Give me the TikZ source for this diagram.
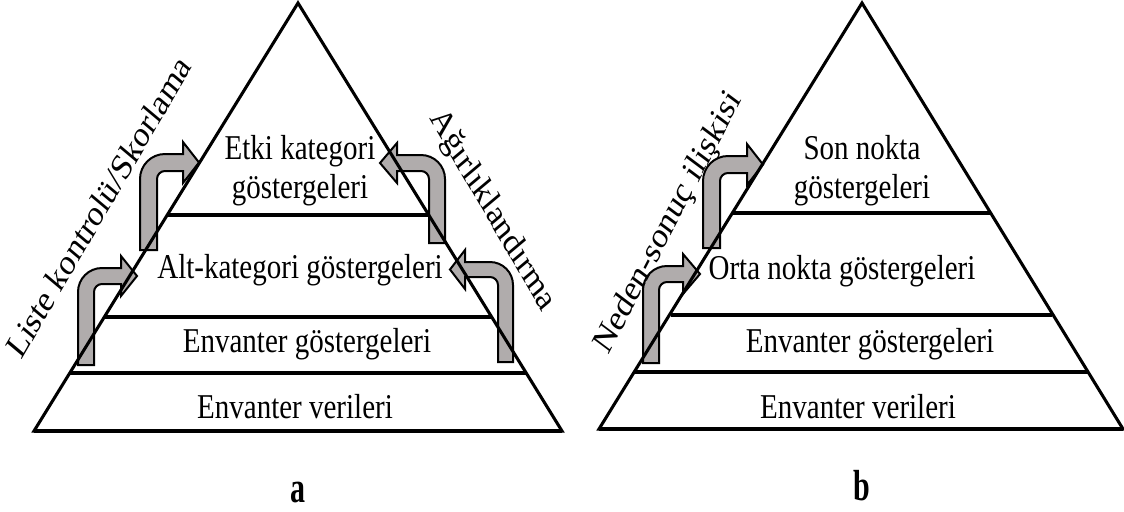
\documentclass[tikz,border=0pt]{standalone}
\usepackage{fontspec}
\setmainfont{Liberation Serif}
\definecolor{arrowgray}{RGB}{176,172,172}
\newcommand\bentarrow[7]{%
\begin{scope}[shift={(#1,#2)},xscale=#3]
\draw[arrowshape] (0,0) -- (0,{-#4+#5+8}) arc[start angle=180,end angle=270,radius={#5+8}]
  -- (#6,-#4) -- (#6,{-#4-12}) -- (#7,{-#4+#5/2}) -- (#6,{-#4+#5+12}) -- (#6,{-#4+#5})
  -- ({#5+8},{-#4+#5}) arc[start angle=270,end angle=180,radius=8] -- (#5,0) -- cycle;
\end{scope}}
\begin{document}
\begin{tikzpicture}[x=0.75pt,y=0.75pt,yscale=-1,
  arrowshape/.style={draw=black,fill=arrowgray,line width=1.5pt,line join=miter},
  tri/.style={draw=black,line width=2.3pt,line join=miter},
  layer/.style={draw=black,line width=3pt},
  lbl/.style={inner sep=0pt,yscale=1.2,anchor=base,font=\fontsize{21.75pt}{24.4pt}\selectfont,align=center},
  lbltwo/.style={inner sep=0pt,yscale=1.2,anchor=center,font=\fontsize{21.75pt}{24.4pt}\selectfont,align=center},
  side/.style={inner sep=0pt,anchor=base,yscale=1.2,font=\fontsize{23pt}{27pt}\selectfont},
  captext/.style={inner sep=0pt,anchor=base,yscale=1.45,font=\fontsize{22.5pt}{26pt}\selectfont\bfseries}]
\useasboundingbox (0,0) rectangle (1124,511);
% arrows (left pyramid)
\bentarrow{78}{365}{1}{97}{16}{43}{59}
\bentarrow{140}{250}{1}{96}{17}{43}{59}
\bentarrow{513}{362}{-1}{100}{15}{48}{63}
\bentarrow{445}{243}{-1}{88}{16}{48}{65}
% arrows (right pyramid)
\bentarrow{643}{363}{1}{97}{16}{40}{57}
\bentarrow{703}{248}{1}{92}{17}{44}{60}
% left pyramid
\draw[tri] (34,431) -- (298,3) -- (562,431) -- cycle;
\draw[layer] (69,373) -- (527,373);
\draw[layer] (104,317) -- (492,317);
\draw[layer] (167,215) -- (429,215);
\draw[layer] (34,431) -- (562,431);
% right pyramid
\draw[tri] (599,429) -- (862,3) -- (1123,429) -- cycle;
\draw[layer] (634,372) -- (1089,372);
\draw[layer] (671,315) -- (1052,315);
\draw[layer] (732,213) -- (991,213);
\draw[layer] (599,429) -- (1123,429);
% texts left
\node[lbltwo] (la1) at (300,171) {Etki kategori\\göstergeleri};
\node[lbl] (la2) at (300,278) {Alt-kategori göstergeleri};
\node[lbl] (la3) at (307,352) {Envanter göstergeleri};
\node[lbl] (la4) at (295,418) {Envanter verileri};
\node[side,rotate=55] (ls) at (107,214) {Liste kontrolü/Skorlama};
\node[side,rotate=-55] (rs) at (486,216) {Ağırlıklandırma};
% texts right
\node[lbltwo] (rb1) at (862,171) {Son nokta\\göstergeleri};
\node[lbl] (rb2) at (842,279) {Orta nokta göstergeleri};
\node[lbl] (rb3) at (870,352) {Envanter göstergeleri};
\node[lbl] (rb4) at (858,418) {Envanter verileri};
\node[side,rotate=58] (ns) at (675,228) {Neden-sonuç ilişkisi};
% captions
\node[captext] (ca) at (298,502) {a};
\node[captext] (cb) at (862,500) {b};
\end{tikzpicture}
\end{document}
